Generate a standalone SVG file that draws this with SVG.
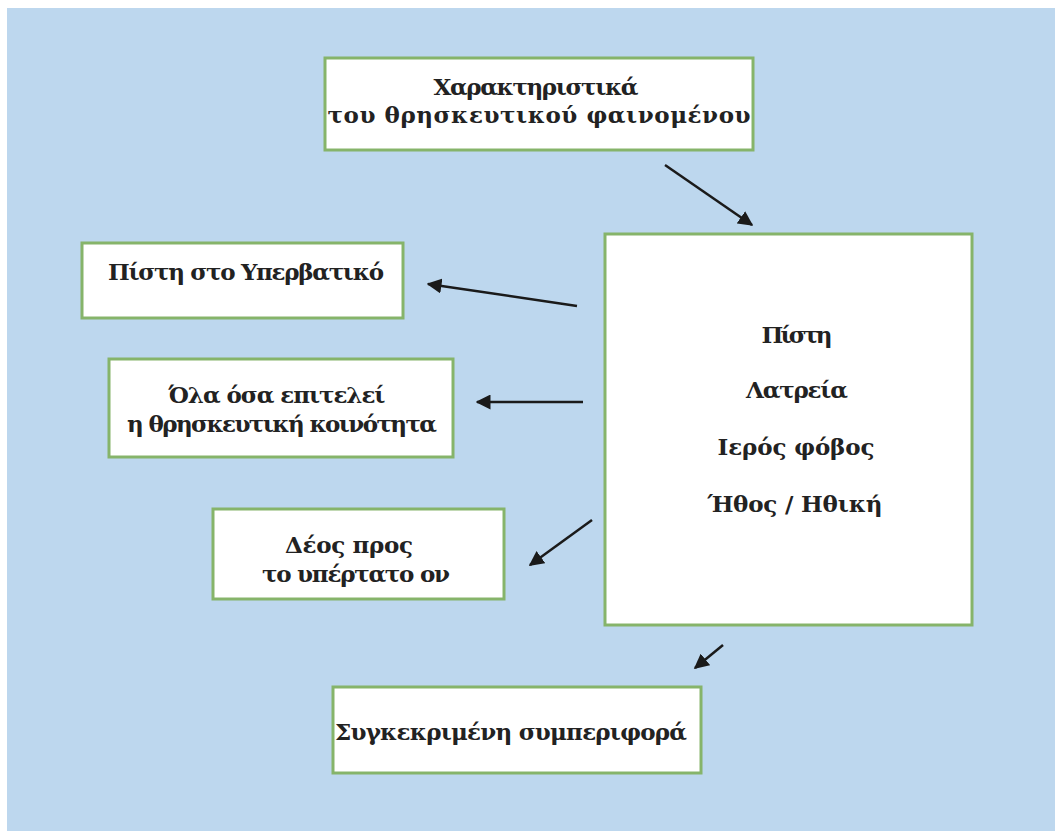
<svg xmlns="http://www.w3.org/2000/svg" width="1055" height="831" viewBox="0 0 1055 831">
<defs>
<style>
.box{fill:#ffffff;stroke:#86b46a;stroke-width:3}
.t{font-family:"DejaVu Serif","Liberation Serif",serif;font-weight:bold;font-size:23px;fill:#222222;text-anchor:middle}
.c{stroke:#1a1a1a;stroke-width:2.5;fill:none;marker-end:url(#ah)}
</style>
<marker id="ah" viewBox="0 0 10 10" refX="9" refY="5" markerWidth="6" markerHeight="6" markerUnits="strokeWidth" orient="auto">
<path d="M0,0 L10,5 L0,10 z" fill="#1a1a1a"/>
</marker>
</defs>
<rect x="0" y="0" width="1055" height="831" fill="#ffffff"/>
<rect x="7" y="8" width="1048" height="823" fill="#bdd7ee"/>
<g id="connectors">
<line class="c" x1="665" y1="165" x2="752" y2="225"/>
<line class="c" x1="577" y1="306" x2="428" y2="284"/>
<line class="c" x1="583" y1="402" x2="477" y2="402"/>
<line class="c" x1="592" y1="520" x2="530" y2="565"/>
<line class="c" x1="723" y1="645" x2="695" y2="668"/>
</g>
<g id="n-top">
<rect class="box" x="325" y="58" width="428" height="92"/>
<text class="t" x="536" y="95" textLength="205">Χαρακτηριστικά</text>
<text class="t" x="539" y="123" textLength="423">του θρησκευτικού φαινομένου</text>
</g>
<g id="n-main">
<rect class="box" x="605" y="234" width="367" height="391"/>
<text class="t" x="797" y="343" textLength="71">Πίστη</text>
<text class="t" x="797" y="398" textLength="102">Λατρεία</text>
<text class="t" x="796" y="455" textLength="157">Ιερός φόβος</text>
<text class="t" x="795" y="512" textLength="175">Ήθος / Ηθική</text>
</g>
<g id="n-pisti">
<rect class="box" x="82" y="243" width="321" height="75"/>
<text class="t" x="246" y="280" textLength="276">Πίστη στο Υπερβατικό</text>
</g>
<g id="n-ola">
<rect class="box" x="109" y="359" width="344" height="98"/>
<text class="t" x="277" y="403" textLength="217">Όλα όσα επιτελεί</text>
<text class="t" x="282" y="432" textLength="310">η θρησκευτική κοινότητα</text>
</g>
<g id="n-deos">
<rect class="box" x="213" y="509" width="291" height="90"/>
<text class="t" x="349" y="553" textLength="128">Δέος προς</text>
<text class="t" x="356" y="582" textLength="188">το υπέρτατο ον</text>
</g>
<g id="n-symp">
<rect class="box" x="333" y="687" width="368" height="86"/>
<text class="t" x="511" y="740" textLength="352">Συγκεκριμένη συμπεριφορά</text>
</g>
</svg>
